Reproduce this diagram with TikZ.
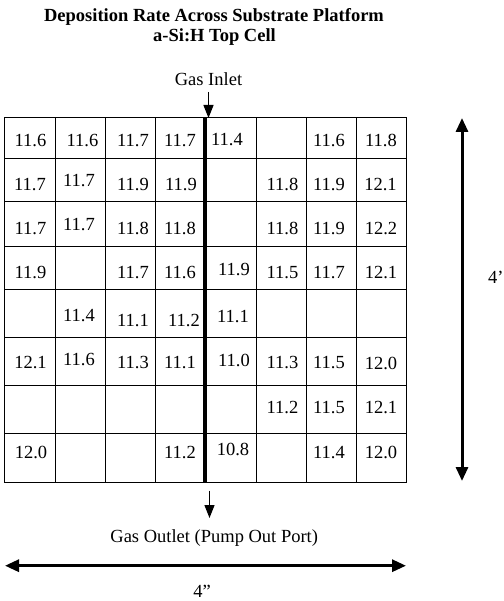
\documentclass[tikz,border=0pt]{standalone}
\usepackage{fontspec}
\setmainfont{Liberation Serif}
\usetikzlibrary{arrows.meta}
\tikzset{
  cellrule/.style={draw=black,line width=1pt},
  divider/.style={draw=black,line width=4.5pt},
  val/.style={inner sep=0pt,anchor=center,
    font=\fontsize{18.5}{22}\selectfont},
  lbl/.style={inner sep=0pt,anchor=base,
    font=\fontsize{18.5}{22}\selectfont},
  ttl/.style={inner sep=0pt,anchor=base,
    font=\fontsize{18.5}{22}\selectfont\bfseries},
  flow/.style={-{Triangle[length=13pt,width=10pt]},line width=1.3pt},
  dimarr/.style={{Triangle[length=14pt,width=12pt]}-{Triangle[length=14pt,width=12pt]},
    line width=3pt},
}

\begin{document}
\begin{tikzpicture}[x=1pt,y=-1pt]
  \useasboundingbox (0,0) rectangle (503,601);
  \node (title) [ttl] at (214,21.7) {Deposition Rate Across Substrate Platform};
  \node (subtitle) [ttl] at (214.5,41.7) {a-Si:H Top Cell};
  \node (inlet) [lbl] at (208.5,86) {Gas Inlet};
  \node (outlet) [lbl] at (214.2,542.7) {Gas Outlet (Pump Out Port)};
  \node (width) [lbl] at (202,597) {4”};
  \node (height) [lbl,anchor=base west] at (488,283) {4’};
  \coordinate (nw) at (4,118);
  \coordinate (se) at (406,482);
  \draw[cellrule] (nw) rectangle (se);
  \foreach \x in {55,105,155,256,306,356}
    \draw[cellrule] (\x,118) -- (\x,482);
  \foreach \y in {159,202,246,289,337,385,433}
    \draw[cellrule] (4,\y) -- (406,\y);
  \draw[divider] (205,118) -- (205,482);
  \foreach \x/\y/\v [count=\i] in {
    30.5/140.5/11.6, 82.5/140.5/11.6, 133/140.5/11.7, 180/140.5/11.7,
    227/140/11.4, 329/140.5/11.6, 381/140.5/11.8,
    30/184.5/11.7, 79/180.5/11.7, 133/184.5/11.9, 181/184.5/11.9,
    282.5/184.5/11.8, 329/184.5/11.9, 380.5/184.5/12.1,
    30.5/228.5/11.7, 79/225/11.7, 133/228.5/11.8, 180/228.5/11.8,
    282.5/228.5/11.8, 329/228.5/11.9, 381/228.5/12.2,
    30.5/273/11.9, 133/273/11.7, 180/273/11.6, 234/270/11.9,
    282.5/273/11.5, 329/273/11.7, 381/273/12.1,
    79/315.5/11.4, 133/320.5/11.1, 184/320.5/11.2, 233/316.5/11.1,
    30.5/363/12.1, 79/360/11.6, 133/363/11.3, 180/363/11.1,
    234/360/11.0, 282.5/363/11.3, 329/363/11.5, 381/363/12.0,
    282.5/408/11.2, 329/408/11.5, 381/408/12.1,
    31/452.5/12.0, 180/452.5/11.2, 233/449.5/10.8, 329/452.5/11.4,
    381/452.5/12.0}
    \node[val] (v\i) at (\x,\y) {\v};
  \coordinate (intop) at (208.5,92);
  \coordinate (intip) at (208.5,118);
  \draw[flow] (intop) -- (intip);
  \coordinate (outfoot) at (209.5,490.5);
  \coordinate (outtip) at (209.5,518);
  \draw[flow] (outfoot) -- (outtip);
  \coordinate (wl) at (5,565.7);
  \coordinate (wr) at (406,565.7);
  \draw[dimarr] (wl) -- (wr);
  \coordinate (ht) at (462,118);
  \coordinate (hb) at (462,481);
  \draw[dimarr] (ht) -- (hb);
\end{tikzpicture}
\end{document}
